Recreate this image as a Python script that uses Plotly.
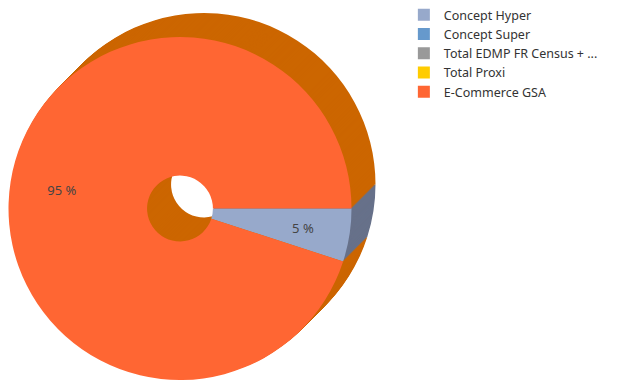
import plotly.graph_objects as go

labels = ["Concept Hyper", "Concept Super", "Total EDMP FR Census + ...", "Total Proxi", "E-Commerce GSA"]
values = [5, 0, 0, 0, 95]
front_colors = ["#97a9cb", "#6699cc", "#999999", "#ffcc00", "#ff6633"]
side_colors = ["#67718a", "#466b8f", "#6b6b6b", "#b38f00", "#cc6600"]

W, H = 618, 380
R = 171.5
hole = 0.192
front_c = (180.0, 208.5)  # pixel center (from top-left)
depth = 24  # extrusion offset in px (up-right)
label_r_out, label_r_in = 144.0, 95.0  # ring used to place the percentage labels

total = sum(values)
texts = [f"{round(v / total * 100)} %" for v in values]


def domain(cx, cy, r=R):
    yb = H - cy
    return dict(x=[(cx - r) / W, (cx + r) / W], y=[max(0.0, (yb - r) / H), min(1.0, (yb + r) / H)])


common = dict(labels=labels, values=values, sort=False, direction="clockwise", rotation=90)

fig = go.Figure()
# extruded side, drawn back to front
for k in range(depth, 0, -1):
    cx, cy = front_c[0] + k, front_c[1] - k
    fig.add_trace(go.Pie(
        **common, hole=hole, marker=dict(colors=side_colors, line=dict(width=0)),
        textinfo="none", hoverinfo="skip", showlegend=False, domain=domain(cx, cy),
    ))

# front face
fig.add_trace(go.Pie(
    **common, hole=hole, marker=dict(colors=front_colors, line=dict(width=0)),
    textinfo="none", hoverinfo="label+percent", showlegend=True, domain=domain(*front_c),
))

# transparent ring carrying the percentage labels
fig.add_trace(go.Pie(
    **common, hole=label_r_in / label_r_out,
    marker=dict(colors=["rgba(0,0,0,0)"] * len(values), line=dict(width=0)),
    text=texts, textinfo="text", textposition="inside", insidetextorientation="horizontal",
    textfont=dict(family="Noto Sans", size=13, color="#444444"),
    hoverinfo="skip", showlegend=False, domain=domain(*front_c, r=label_r_out),
))

fig.update_layout(
    width=W, height=H,
    margin=dict(l=0, r=0, t=0, b=0),
    paper_bgcolor="white", plot_bgcolor="white",
    font=dict(family="Noto Sans", size=12, color="#333333"),
    legend=dict(x=0.6535, y=1.0, xanchor="left", yanchor="top", itemwidth=30,
                font=dict(size=12.5, color="#333333"), traceorder="normal"),
)

fig.write_html("out.html", config={"displayModeBar": False},
               post_script="document.body.style.margin='0';")
